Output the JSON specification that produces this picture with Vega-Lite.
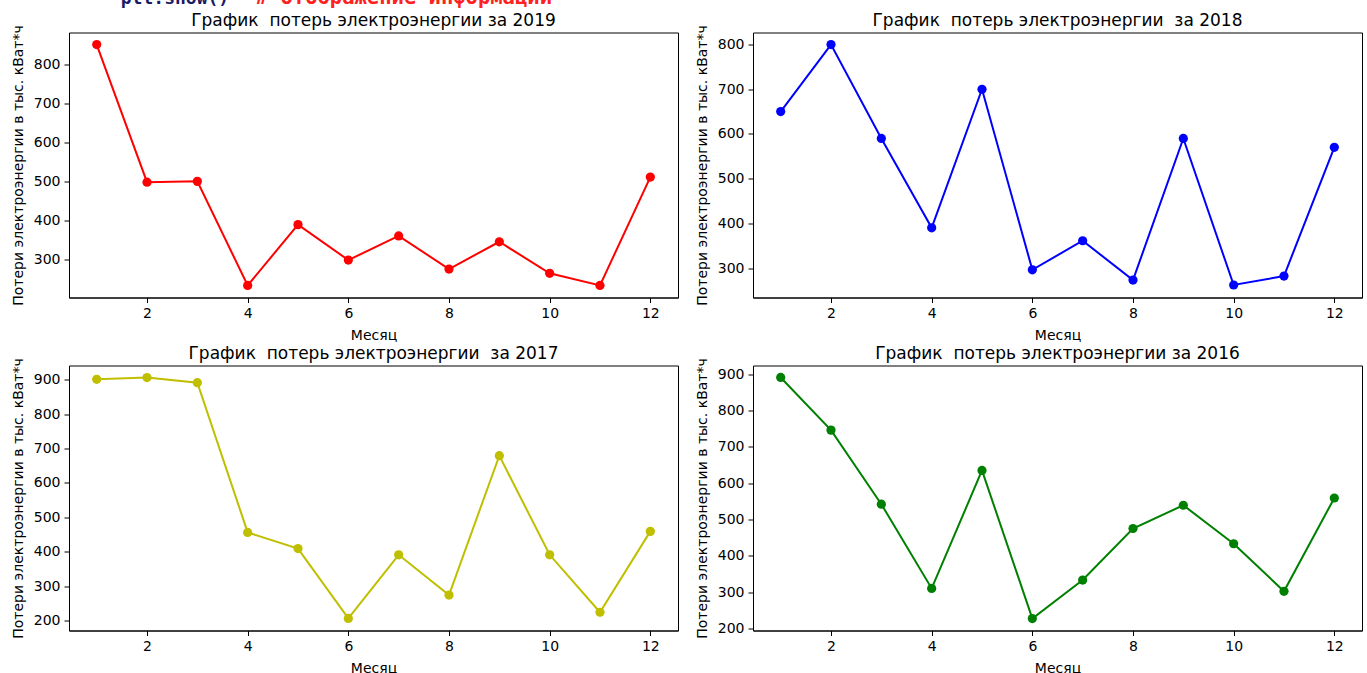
{
  "$schema": "https://vega.github.io/schema/vega-lite/v6.json",
  "padding": {"left": 10, "top": -12.5, "right": 0, "bottom": 0},
  "background": "white",
  "title": {
    "text": "plt.show()",
    "subtitle": "\u2800\u2800\u2800\u2800\u2800\u2800\u2800\u2800\u2800# отображение информации",
    "anchor": "start",
    "dx": 110,
    "font": "DejaVu Sans Mono",
    "fontSize": 18,
    "fontWeight": "bold",
    "color": "#1a1a66",
    "subtitleFont": "DejaVu Sans Mono",
    "subtitleFontSize": 20.5,
    "subtitleFontWeight": "bold",
    "subtitleColor": "#ff2020",
    "subtitlePadding": -20.2,
    "offset": 1
  },
  "datasets": {
    "d2019": [
      {"Месяц": 1, "Потери": 852}, {"Месяц": 2, "Потери": 499}, {"Месяц": 3, "Потери": 501},
      {"Месяц": 4, "Потери": 234}, {"Месяц": 5, "Потери": 390}, {"Месяц": 6, "Потери": 299},
      {"Месяц": 7, "Потери": 361}, {"Месяц": 8, "Потери": 276}, {"Месяц": 9, "Потери": 346},
      {"Месяц": 10, "Потери": 265}, {"Месяц": 11, "Потери": 234}, {"Месяц": 12, "Потери": 512}
    ],
    "d2018": [
      {"Месяц": 1, "Потери": 650}, {"Месяц": 2, "Потери": 800}, {"Месяц": 3, "Потери": 590},
      {"Месяц": 4, "Потери": 390}, {"Месяц": 5, "Потери": 700}, {"Месяц": 6, "Потери": 296},
      {"Месяц": 7, "Потери": 361}, {"Месяц": 8, "Потери": 273}, {"Месяц": 9, "Потери": 590},
      {"Месяц": 10, "Потери": 262}, {"Месяц": 11, "Потери": 282}, {"Месяц": 12, "Потери": 570}
    ],
    "d2017": [
      {"Месяц": 1, "Потери": 901}, {"Месяц": 2, "Потери": 906}, {"Месяц": 3, "Потери": 891},
      {"Месяц": 4, "Потери": 456}, {"Месяц": 5, "Потери": 409}, {"Месяц": 6, "Потери": 206},
      {"Месяц": 7, "Потери": 391}, {"Месяц": 8, "Потери": 274}, {"Месяц": 9, "Потери": 679},
      {"Месяц": 10, "Потери": 391}, {"Месяц": 11, "Потери": 224}, {"Месяц": 12, "Потери": 459}
    ],
    "d2016": [
      {"Месяц": 1, "Потери": 891}, {"Месяц": 2, "Потери": 746}, {"Месяц": 3, "Потери": 542},
      {"Месяц": 4, "Потери": 310}, {"Месяц": 5, "Потери": 635}, {"Месяц": 6, "Потери": 227},
      {"Месяц": 7, "Потери": 333}, {"Месяц": 8, "Потери": 475}, {"Месяц": 9, "Потери": 539},
      {"Месяц": 10, "Потери": 433}, {"Месяц": 11, "Потери": 302}, {"Месяц": 12, "Потери": 559}
    ]
  },
  "columns": 2,
  "spacing": {"row": 0, "column": 15},
  "concat": [
    {
      "title": "График\u00a0 потерь электроэнергии за 2019",
      "width": 609, "height": 265,
      "data": {"name": "d2019"},
      "encoding": {
        "x": {"field": "Месяц", "type": "quantitative", "title": "Месяц",
              "scale": {"domain": [0.45, 12.55], "nice": false, "zero": false},
              "axis": {"values": [2, 4, 6, 8, 10, 12]}},
        "y": {"field": "Потери", "type": "quantitative", "title": "Потери электроэнергии в тыс. кВат*ч",
              "scale": {"domain": [203, 883], "nice": false, "zero": false},
              "axis": {"values": [300, 400, 500, 600, 700, 800]}}
      },
      "layer": [
        {"mark": {"type": "line", "color": "#ff0000", "strokeWidth": 2}},
        {"mark": {"type": "point", "filled": true, "opacity": 1, "color": "#ff0000", "size": 85}}
      ]
    },
    {
      "title": "График\u00a0 потерь электроэнергии\u00a0 за 2018",
      "width": 609, "height": 265,
      "data": {"name": "d2018"},
      "encoding": {
        "x": {"field": "Месяц", "type": "quantitative", "title": "Месяц",
              "scale": {"domain": [0.45, 12.55], "nice": false, "zero": false},
              "axis": {"values": [2, 4, 6, 8, 10, 12]}},
        "y": {"field": "Потери", "type": "quantitative", "title": "Потери электроэнергии в тыс. кВат*ч",
              "scale": {"domain": [234, 827], "nice": false, "zero": false},
              "axis": {"values": [300, 400, 500, 600, 700, 800]}}
      },
      "layer": [
        {"mark": {"type": "line", "color": "#0000ff", "strokeWidth": 2}},
        {"mark": {"type": "point", "filled": true, "opacity": 1, "color": "#0000ff", "size": 85}}
      ]
    },
    {
      "title": "График\u00a0 потерь электроэнергии\u00a0 за 2017",
      "width": 609, "height": 265,
      "data": {"name": "d2017"},
      "encoding": {
        "x": {"field": "Месяц", "type": "quantitative", "title": "Месяц",
              "scale": {"domain": [0.45, 12.55], "nice": false, "zero": false},
              "axis": {"values": [2, 4, 6, 8, 10, 12]}},
        "y": {"field": "Потери", "type": "quantitative", "title": "Потери электроэнергии в тыс. кВат*ч",
              "scale": {"domain": [171, 941], "nice": false, "zero": false},
              "axis": {"values": [200, 300, 400, 500, 600, 700, 800, 900]}}
      },
      "layer": [
        {"mark": {"type": "line", "color": "#bfbf00", "strokeWidth": 2}},
        {"mark": {"type": "point", "filled": true, "opacity": 1, "color": "#bfbf00", "size": 85}}
      ]
    },
    {
      "title": "График\u00a0 потерь электроэнергии за 2016",
      "width": 609, "height": 265,
      "data": {"name": "d2016"},
      "encoding": {
        "x": {"field": "Месяц", "type": "quantitative", "title": "Месяц",
              "scale": {"domain": [0.45, 12.55], "nice": false, "zero": false},
              "axis": {"values": [2, 4, 6, 8, 10, 12]}},
        "y": {"field": "Потери", "type": "quantitative", "title": "Потери электроэнергии в тыс. кВат*ч",
              "scale": {"domain": [194, 924], "nice": false, "zero": false},
              "axis": {"values": [200, 300, 400, 500, 600, 700, 800, 900]}}
      },
      "layer": [
        {"mark": {"type": "line", "color": "#008000", "strokeWidth": 2}},
        {"mark": {"type": "point", "filled": true, "opacity": 1, "color": "#008000", "size": 85}}
      ]
    }
  ],
  "config": {
    "font": "DejaVu Sans",
    "view": {"stroke": "#000000", "strokeWidth": 1},
    "title": {"fontSize": 17, "fontWeight": "normal", "color": "#000000", "offset": -5, "font": "DejaVu Sans"},
    "axis": {
      "grid": false,
      "domainColor": "#000000",
      "tickColor": "#000000",
      "tickSize": 5,
      "labelFontSize": 14,
      "labelColor": "#000000",
      "labelPadding": 4,
      "titleFontSize": 14,
      "titleFontWeight": "normal",
      "titleColor": "#000000",
      "titlePadding": 8,
      "labelFont": "DejaVu Sans",
      "titleFont": "DejaVu Sans"
    },
    "axisY": {"titlePadding": 8}
  }
}
